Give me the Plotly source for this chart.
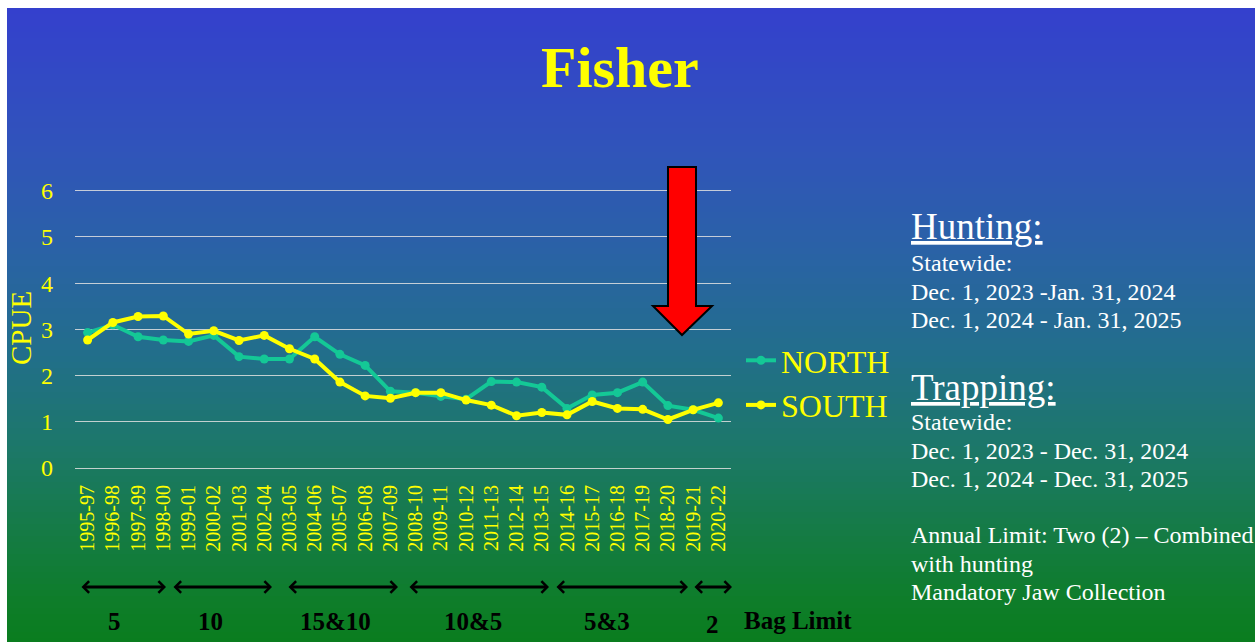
import plotly.graph_objects as go

# ---- data -------------------------------------------------------------
seasons = [
    "1995-97", "1996-98", "1997-99", "1998-00", "1999-01", "2000-02",
    "2001-03", "2002-04", "2003-05", "2004-06", "2005-07", "2006-08",
    "2007-09", "2008-10", "2009-11", "2010-12", "2011-13", "2012-14",
    "2013-15", "2014-16", "2015-17", "2016-18", "2017-19", "2018-20",
    "2019-21", "2020-22",
]
north_cpue = [2.93, 3.10, 2.84, 2.77, 2.74, 2.87, 2.41, 2.36, 2.36, 2.84,
              2.46, 2.22, 1.66, 1.63, 1.55, 1.49, 1.87, 1.86, 1.75, 1.29,
              1.58, 1.63, 1.86, 1.35, 1.26, 1.08]
south_cpue = [2.77, 3.15, 3.28, 3.29, 2.90, 2.97, 2.76, 2.87, 2.58, 2.36,
              1.86, 1.56, 1.51, 1.63, 1.63, 1.47, 1.36, 1.13, 1.20, 1.15,
              1.44, 1.29, 1.27, 1.05, 1.26, 1.41]
y_ticks = [0, 1, 2, 3, 4, 5, 6]

bag_limits = ["5", "10", "15&10", "10&5", "5&3", "2"]

hunting_lines = ["Statewide:", "Dec. 1, 2023 -Jan. 31, 2024",
                 "Dec. 1, 2024 - Jan. 31, 2025"]
trapping_lines = ["Statewide:", "Dec. 1, 2023 - Dec. 31, 2024",
                  "Dec. 1, 2024 - Dec. 31, 2025"]
notes_lines = ["Annual Limit: Two (2) \u2013 Combined", "with hunting",
               "Mandatory Jaw Collection"]

# ---- layout geometry (pixels) ----------------------------------------
W, H = 1258, 642
PL, PR, PT, PB = 75, 731, 188, 468          # plot area edges
Y_TOP = 6.06                                 # headroom so the 6 gridline shows


def px(x):
    return (x - PL) / (PR - PL)


def py(y):
    return (PB - y) / (PB - PT)


SERIF = "Liberation Serif, Times New Roman, serif"
YELLOW = "#FFFF00"
TEAL = "#14C896"

fig = go.Figure()

fig.add_trace(go.Scatter(
    x=seasons, y=north_cpue, name="NORTH", mode="lines+markers",
    line=dict(color=TEAL, width=4), marker=dict(color=TEAL, size=9),
    legendgroup="n", cliponaxis=False,
))
fig.add_trace(go.Scatter(
    x=seasons, y=south_cpue, name="SOUTH", mode="lines+markers",
    line=dict(color=YELLOW, width=4), marker=dict(color=YELLOW, size=9),
    legendgroup="s", cliponaxis=False,
))

# ---- slide background: vertical blue -> green gradient ----------------
stops = [
    (8, (52, 64, 205)), (150, (48, 84, 186)), (250, (42, 98, 166)),
    (350, (34, 110, 140)), (450, (28, 120, 104)), (530, (21, 123, 70)),
    (600, (14, 125, 42)), (642, (10, 125, 30)),
]


def grad_color(y):
    for (y0, c0), (y1, c1) in zip(stops[:-1], stops[1:]):
        if y0 <= y <= y1:
            t = (y - y0) / (y1 - y0)
            return "rgb(%d,%d,%d)" % tuple(round(a + (b - a) * t) for a, b in zip(c0, c1))
    return "rgb(%d,%d,%d)" % stops[-1][1]


shapes = []
band = 6
y = 8
while y < H:
    y_end = min(y + band, H)
    shapes.append(dict(
        type="rect", xref="paper", yref="paper", layer="below",
        x0=px(7), x1=px(1255), y0=py(min(y_end + 1, H)), y1=py(y),
        fillcolor=grad_color((y + y_end) / 2), line=dict(width=0),
    ))
    y = y_end

# red downward arrow
arrow_pts = [(668, 167), (696, 167), (696, 306), (712, 306), (682, 335),
             (653, 306), (668, 306)]
path = "M " + " L ".join("%.5f,%.5f" % (px(a), py(b)) for a, b in arrow_pts) + " Z"
shapes.append(dict(type="path", xref="paper", yref="paper", path=path,
                   fillcolor="#FF0000", line=dict(color="black", width=2),
                   layer="above"))

annotations = []

# title
annotations.append(dict(
    text="<b>Fisher</b>", x=px(620), y=py(67), xref="paper", yref="paper",
    showarrow=False, font=dict(family=SERIF, size=58, color=YELLOW),
    xanchor="center", yanchor="middle",
))

# y-axis label
annotations.append(dict(
    text="CPUE", x=px(21), y=py(328), xref="paper", yref="paper",
    showarrow=False, textangle=-90,
    font=dict(family=SERIF, size=29, color=YELLOW),
    xanchor="center", yanchor="middle",
))

# bag-limit span arrows and labels
arrow_spans = [(80, 166), (172, 272), (287, 398), (408, 549), (555, 688), (693, 732)]
label_pos = [(114, 621), (210, 621), (335, 621), (473, 621), (607, 621), (712, 624)]
for (x0, x1), (lx, ly), lab in zip(arrow_spans, label_pos, bag_limits):
    annotations.append(dict(
        x=px(x1), y=py(587), xref="paper", yref="paper", text="",
        ax=-(x1 - x0), ay=0, axref="pixel", ayref="pixel",
        showarrow=True, arrowside="end+start", arrowhead=4, startarrowhead=4,
        arrowwidth=2.8, arrowsize=0.8, startarrowsize=0.8,
        arrowcolor="black", standoff=0, startstandoff=0,
    ))
    annotations.append(dict(
        text="<b>%s</b>" % lab, x=px(lx), y=py(ly), xref="paper", yref="paper",
        showarrow=False, font=dict(family=SERIF, size=25, color="black"),
        xanchor="center", yanchor="middle",
    ))
annotations.append(dict(
    text="<b>Bag Limit</b>", x=px(798), y=py(620), xref="paper", yref="paper",
    showarrow=False, font=dict(family=SERIF, size=25, color="black"),
    xanchor="center", yanchor="middle",
))


# season information text block
def text_line(txt, baseline, size):
    annotations.append(dict(
        text=txt, x=px(909), y=py(baseline - 0.3375 * size),
        xref="paper", yref="paper", showarrow=False,
        font=dict(family=SERIF, size=size, color="white"),
        xanchor="left", yanchor="middle",
    ))


text_line("<u>Hunting:</u>", 239, 37)
for t, b in zip(hunting_lines, [271.5, 300, 328]):
    text_line(t, b, 24)
text_line("<u>Trapping:</u>", 400, 37)
for t, b in zip(trapping_lines, [430, 459, 487]):
    text_line(t, b, 24)
for t, b in zip(notes_lines, [543, 572, 600]):
    text_line(t, b, 24)

fig.update_layout(
    width=W, height=H,
    margin=dict(l=PL, r=W - PR, t=PT, b=H - PB, pad=0),
    paper_bgcolor="white", plot_bgcolor="rgba(0,0,0,0)",
    shapes=shapes, annotations=annotations,
    showlegend=True,
    legend=dict(
        x=px(741), y=py(333), xanchor="left", yanchor="top",
        font=dict(family=SERIF, size=32, color=YELLOW),
        bgcolor="rgba(0,0,0,0)", itemwidth=30, tracegroupgap=0,
    ),
    xaxis=dict(
        type="category", range=[-0.5, len(seasons) - 0.5],
        tickmode="array", tickvals=seasons, ticktext=seasons,
        tickangle=-90, showgrid=False, zeroline=False,
        showline=False, ticks="", ticklabelstandoff=12,
        tickfont=dict(family=SERIF, size=20, color=YELLOW),
    ),
    yaxis=dict(
        range=[0, Y_TOP], tickvals=y_ticks, showgrid=True,
        gridcolor="rgba(225,225,225,0.85)", gridwidth=1,
        zeroline=True, zerolinecolor="rgba(225,225,225,0.85)", zerolinewidth=1,
        showline=False, ticks="", ticklabelstandoff=21,
        tickfont=dict(family=SERIF, size=24, color=YELLOW),
    ),
    font=dict(family=SERIF),
)

fig.write_html("out.html")
